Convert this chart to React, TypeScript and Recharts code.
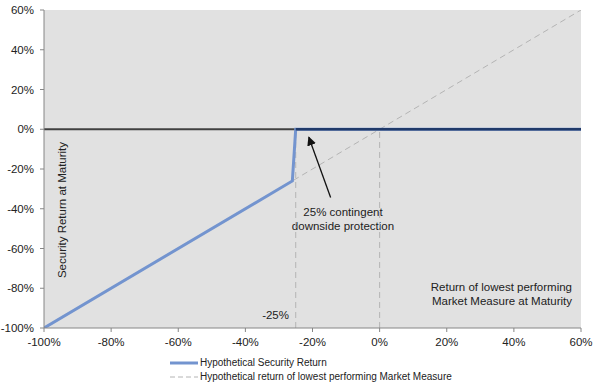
import React from 'react';
import {
  LineChart,
  Line,
  XAxis,
  YAxis,
  CartesianGrid,
  ReferenceLine,
  Legend,
  Customized,
} from 'recharts';

const axisTicks = [-100, -80, -60, -40, -20, 0, 20, 40, 60];

const securityX = [-100, -26, -25, 60];
const securityY = [-100, -26, 0, 0];

const marketX = [-100, 60];
const marketY = [-100, 60];

const securityData = securityX.map((x, i) => ({ x, y: securityY[i] }));
const marketData = marketX.map((x, i) => ({ x, y: marketY[i] }));

const FONT = '"Liberation Sans", Arial, sans-serif';

const LegendBox = () => (
  <div style={{ fontFamily: FONT, fontSize: 10, color: '#222', lineHeight: '14px' }}>
    <div style={{ display: 'flex', alignItems: 'center' }}>
      <svg width={30} height={14}>
        <line x1={0} y1={7} x2={28} y2={7} stroke="#7394cf" strokeWidth={3} />
      </svg>
      <span>Hypothetical Security Return</span>
    </div>
    <div style={{ display: 'flex', alignItems: 'center' }}>
      <svg width={30} height={14}>
        <line x1={0} y1={7} x2={28} y2={7} stroke="#b4b4b4" strokeWidth={1} strokeDasharray="5 3" />
      </svg>
      <span>Hypothetical return of lowest performing Market Measure</span>
    </div>
  </div>
);

const Notes = () => (
  <g fontFamily={FONT} fontSize={11.5} fill="#222">
    <text x={343} y={216} textAnchor="middle">25% contingent</text>
    <text x={343} y={230} textAnchor="middle">downside protection</text>
    <text x={289} y={319} textAnchor="end">-25%</text>
    <text x={572} y={291} textAnchor="end">Return of lowest performing</text>
    <text x={572} y={305} textAnchor="end">Market Measure at Maturity</text>
    <text x={66} y={210} textAnchor="middle" transform="rotate(-90 66 210)">
      Security Return at Maturity
    </text>
  </g>
);

export default function App() {
  const tickStyle = { fontFamily: FONT, fontSize: 11.5, fill: '#222' };
  return (
    <div style={{ position: 'absolute', left: 0, top: 0, width: 599, height: 388, background: '#fff' }}>
      <svg width={0} height={0} style={{ position: 'absolute' }}>
        <defs>
          <marker id="arrowHead" viewBox="0 0 10 10" refX={9} refY={5} markerWidth={7} markerHeight={7} orient="auto">
            <path d="M0,0 L10,5 L0,10 z" fill="#111" />
          </marker>
        </defs>
      </svg>
      <LineChart width={599} height={388} margin={{ top: 10, right: 18, bottom: 30, left: 0 }}>
        <CartesianGrid fill="#e1e1e1" stroke="none" horizontal={false} vertical={false} />
        <XAxis
          type="number"
          dataKey="x"
          domain={[-100, 60]}
          ticks={axisTicks}
          tickFormatter={(v) => `${v}%`}
          height={30}
          tickSize={4}
          tickMargin={6}
          stroke="#868686"
          tick={tickStyle}
          allowDataOverflow
        />
        <YAxis
          type="number"
          dataKey="y"
          domain={[-100, 60]}
          ticks={axisTicks}
          tickFormatter={(v) => `${v}%`}
          width={44}
          tickSize={4}
          tickMargin={6}
          stroke="#868686"
          tick={tickStyle}
          allowDataOverflow
        />
        <ReferenceLine
          segment={[{ x: -25, y: -100 }, { x: -25, y: 0 }]}
          stroke="#b4b4b4"
          strokeDasharray="6 4"
        />
        <ReferenceLine
          segment={[{ x: 0, y: -100 }, { x: 0, y: 0 }]}
          stroke="#b4b4b4"
          strokeDasharray="6 4"
        />
        <ReferenceLine y={0} stroke="#404040" strokeWidth={2} />
        <Line
          data={marketData}
          dataKey="y"
          name="Hypothetical return of lowest performing Market Measure"
          stroke="#b4b4b4"
          strokeWidth={1}
          strokeDasharray="6 4"
          dot={false}
          activeDot={false}
          isAnimationActive={false}
        />
        <Line
          data={securityData}
          dataKey="y"
          name="Hypothetical Security Return"
          stroke="#7394cf"
          strokeWidth={3}
          dot={false}
          activeDot={false}
          isAnimationActive={false}
        />
        <ReferenceLine
          segment={[{ x: -25, y: 0 }, { x: 60, y: 0 }]}
          stroke="#203a6a"
          strokeWidth={2.5}
        />
        <ReferenceLine
          segment={[{ x: -14.6, y: -34.3 }, { x: -21.1, y: -4 }]}
          stroke="#111"
          strokeWidth={1.3}
          markerEnd="url(#arrowHead)"
        />
        <Customized component={<Notes />} />
        <Legend
          layout="vertical"
          align="center"
          verticalAlign="middle"
          content={<LegendBox />}
          wrapperStyle={{ position: 'absolute', left: 170, top: 356, width: 340 }}
        />
      </LineChart>
    </div>
  );
}
